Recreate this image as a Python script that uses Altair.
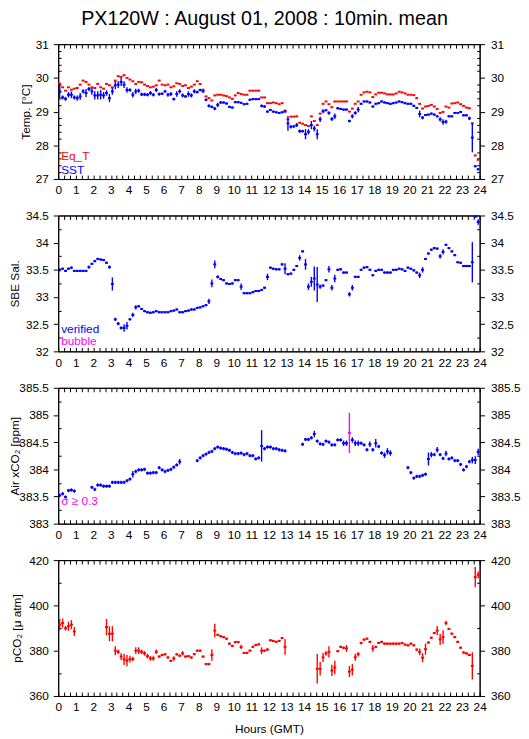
import altair as alt
import pandas as pd

FONT = "Liberation Sans"
BLUE = "#0000ff"
RED = "#ff0000"
MAGENTA = "#ff00ff"
TITLE = "PX120W : August 01, 2008 : 10min. mean"
N = None

# ---- 10-minute means, one row per hour (6 values) ----
eq_t = [
    29.83, 29.72, 29.62, 29.72, 29.65, 29.68,
    29.70, 29.80, 29.92, 29.88, 29.80, 29.72,
    29.70, 29.82, 29.72, 29.68, 29.82, 29.78,
    29.72, 29.92, 30.05, 30.03, 30.08, 30.00,
    29.95, 29.90, 29.82, 29.88, 29.87, 29.80,
    29.76, 29.72, 29.74, 29.78, 29.92, 29.80,
    29.78, 29.80, 29.72, 29.75, 29.84, 29.82,
    29.76, 29.78, 29.70, 29.74, 29.80, 29.90,
    29.82, 29.65, 29.45, 29.40, 29.33, 29.48,
    29.50, 29.50, 29.48, 29.46, 29.42, 29.38,
    29.48, 29.55, 29.52, 29.50, 29.50, 29.62,
    29.62, 29.62, 29.62, 29.42, 29.42, 29.25,
    29.25, 29.27, 29.25, 29.22, 29.25, 29.03,
    28.77, 28.85, 28.85, 28.86, 28.67, 28.64,
    28.60, 28.57, 28.86, 28.72, 28.60, 28.94,
    29.23, 29.30, 29.22, 29.13, 29.30, 29.30,
    29.30, 29.30, 29.30, 29.00, 29.09, 29.23,
    29.30, 29.50, 29.57, 29.59, 29.57, 29.43,
    29.51, 29.56, 29.56, 29.54, 29.51, 29.51,
    29.51, 29.54, 29.59, 29.57, 29.54, 29.50,
    29.50, 29.49, 29.40, 29.23, 29.09, 29.15,
    29.17, 29.20, 29.15, 29.08, 28.96, 28.99,
    29.15, 29.12, 29.24, 29.25, 29.27, 29.22,
    29.17, 29.12, 29.10, 28.65, 27.70, 27.57,
]

sst = [
    29.60, 29.42, 29.38, 29.50, 29.50, 29.42,
    29.40, 29.45, 29.60, 29.55, 29.67, 29.60,
    29.48, 29.48, 29.50, 29.48, 29.55, 29.40,
    29.60, 29.78, 29.80, 29.88, 29.80, 29.64,
    29.64, 29.50, 29.60, 29.62, 29.51, 29.51,
    29.50, 29.55, 29.50, 29.64, 29.52, 29.53,
    29.60, 29.50, 29.52, 29.37, 29.52, 29.60,
    29.48, 29.45, 29.52, 29.48, 29.60, 29.58,
    29.64, 29.60, 29.35, 29.17, 29.14, 29.09,
    29.20, 29.27, 29.27, 29.24, 29.14, 29.12,
    29.28, 29.28, 29.26, 29.22, 29.23, 29.35,
    29.37, 29.37, 29.37, 29.17, 29.15, 29.00,
    29.05, 29.00, 28.98, 28.96, 28.98, 29.00,
    28.65, 28.55, 28.56, 28.60, 28.42, 28.42,
    28.33, 28.40, 28.60, 28.50, 28.33, 28.77,
    29.01, 29.04, 28.96, 28.78, 28.86, 29.10,
    29.08, 29.06, 29.06, 28.72, 28.86, 28.96,
    29.06, 29.23, 29.30, 29.30, 29.27, 29.15,
    29.23, 29.25, 29.30, 29.27, 29.25, 29.23,
    29.25, 29.27, 29.30, 29.28, 29.25, 29.23,
    29.23, 29.17, 29.11, 28.93, 28.82, 28.90,
    28.91, 28.94, 28.91, 28.86, 28.77, 28.69,
    28.70, 28.86, 28.86, 28.96, 28.96, 28.99,
    28.89, 28.89, 28.80, 28.23, 27.38, 27.29,
]
sst_sd = [
    0.20, 0.06, 0.06, 0.08, 0.10, 0.06,
    0.08, 0.10, 0.06, 0.12, 0.06, 0.10,
    0.12, 0.12, 0.14, 0.10, 0.08, 0.12,
    0.10, 0.12, 0.10, 0.12, 0.10, 0.08,
    0.05, 0.08, 0.08, 0.06, 0.05, 0.05,
    0.05, 0.06, 0.05, 0.06, 0.05, 0.04,
    0.04, 0.06, 0.06, 0.04, 0.08, 0.06,
    0.06, 0.04, 0.08, 0.06, 0.06, 0.04,
    0.04, 0.04, 0.04, 0.05, 0.04, 0.05,
    0.06, 0.04, 0.03, 0.03, 0.03, 0.03,
    0.03, 0.03, 0.03, 0.03, 0.03, 0.03,
    0.03, 0.03, 0.03, 0.04, 0.04, 0.03,
    0.03, 0.03, 0.03, 0.03, 0.03, 0.03,
    0.22, 0.05, 0.04, 0.06, 0.05, 0.04,
    0.15, 0.08, 0.12, 0.08, 0.15, 0.08,
    0.06, 0.03, 0.05, 0.06, 0.08, 0.04,
    0.03, 0.03, 0.03, 0.04, 0.06, 0.05,
    0.08, 0.03, 0.03, 0.03, 0.03, 0.03,
    0.03, 0.03, 0.03, 0.03, 0.03, 0.03,
    0.03, 0.03, 0.03, 0.03, 0.03, 0.03,
    0.03, 0.03, 0.03, 0.10, 0.05, 0.03,
    0.03, 0.03, 0.03, 0.03, 0.06, 0.08,
    0.06, 0.03, 0.03, 0.03, 0.03, 0.03,
    0.03, 0.03, 0.05, 0.44, 0.03, 0.03,
]

sal = [
    33.50, 33.52, 33.48, 33.52, 33.54, 33.48,
    33.48, 33.48, 33.48, 33.48, 33.55, 33.61,
    33.66, 33.70, 33.69, 33.68, 33.63, 33.55,
    33.24, 32.59, 32.51, 32.43, 32.43, 32.47,
    32.59, 32.67, 32.81, 32.83, 32.78, 32.74,
    32.72, 32.71, 32.72, 32.74, 32.72, 32.72,
    32.72, 32.72, 32.74, 32.75, 32.77, 32.72,
    32.72, 32.74, 32.75, 32.77, 32.77, 32.80,
    32.81, 32.83, 32.85, 32.92, 33.25, 33.60,
    33.37, 33.33, 33.31, 33.25, 33.24, 33.25,
    33.31, 33.31, 33.19, 33.07, 33.07, 33.07,
    33.09, 33.11, 33.11, 33.13, 33.17, 33.37,
    33.54, 33.52, 33.51, 33.51, 33.60, 33.52,
    33.42, 33.43, 33.50, 33.57, 33.72, 33.84,
    33.60, 33.19, 33.28, 33.34, 33.23, 33.19,
    33.21, 33.31, 33.51, 33.17, 33.34, 33.50,
    33.51, 33.45, 33.45, 33.05, 33.17, 33.37,
    33.37, 33.50, 33.54, 33.55, 33.50, 33.40,
    33.48, 33.50, 33.50, 33.45, 33.45, 33.45,
    33.50, 33.50, 33.52, 33.51, 33.48, 33.54,
    33.52, 33.49, 33.45, 33.40, 33.50, 33.70,
    33.80, 33.87, 33.90, 33.89, 33.75, 33.83,
    33.96, 33.90, 33.84, 33.77, 33.64, 33.63,
    33.57, 33.57, 33.57, 33.64, 34.48, 34.38,
]
sal_sd = [
    0.03, 0.02, 0.02, 0.02, 0.02, 0.02,
    0.02, 0.02, 0.02, 0.02, 0.03, 0.02,
    0.02, 0.02, 0.02, 0.02, 0.02, 0.03,
    0.12, 0.03, 0.03, 0.03, 0.07, 0.07,
    0.02, 0.04, 0.04, 0.02, 0.02, 0.02,
    0.02, 0.02, 0.02, 0.02, 0.02, 0.02,
    0.02, 0.02, 0.02, 0.02, 0.02, 0.02,
    0.02, 0.02, 0.02, 0.02, 0.02, 0.02,
    0.02, 0.02, 0.02, 0.05, 0.07, 0.07,
    0.03, 0.02, 0.02, 0.02, 0.02, 0.02,
    0.02, 0.02, 0.06, 0.02, 0.02, 0.02,
    0.02, 0.02, 0.02, 0.02, 0.02, 0.06,
    0.02, 0.02, 0.02, 0.02, 0.02, 0.10,
    0.02, 0.02, 0.02, 0.02, 0.05, 0.02,
    0.10, 0.06, 0.09, 0.22, 0.32, 0.04,
    0.02, 0.02, 0.06, 0.05, 0.07, 0.02,
    0.02, 0.02, 0.02, 0.04, 0.05, 0.02,
    0.02, 0.02, 0.02, 0.02, 0.02, 0.02,
    0.02, 0.02, 0.02, 0.02, 0.02, 0.02,
    0.02, 0.02, 0.02, 0.02, 0.02, 0.02,
    0.02, 0.02, 0.02, 0.05, 0.05, 0.02,
    0.02, 0.02, 0.02, 0.02, 0.04, 0.05,
    0.02, 0.02, 0.02, 0.02, 0.02, 0.02,
    0.02, 0.02, 0.02, 0.37, 0.02, 0.05,
]

xco2 = [
    383.52, 383.55, 383.49, 383.61, 383.62, 383.60,
    N, N, N, N, N, 383.67,
    383.63, 383.71, 383.71, 383.69, 383.69, 383.69,
    383.76, 383.76, 383.76, 383.76, 383.76, 383.79,
    383.82, 383.91, 383.96, 383.99, 383.99, 384.00,
    383.93, 383.93, 383.94, 383.94, 384.03, 383.99,
    383.96, 383.98, 384.00, 384.04, 384.08, 384.14,
    N, N, N, N, N, 384.16,
    384.21, 384.25, 384.28, 384.31, 384.33, 384.38,
    384.41, 384.39, 384.38, 384.37, 384.35, 384.31,
    384.29, 384.29, 384.30, 384.27, 384.29, 384.25,
    384.25, 384.19, 384.21, 384.43, 384.38, 384.41,
    384.41, 384.38, 384.38, 384.36, 384.35, 384.34,
    N, N, N, N, N, 384.46,
    384.55, 384.55, 384.58, 384.65, 384.52, 384.47,
    384.46, 384.52, 384.50, 384.45, 384.45, 384.54,
    384.54, 384.48, 384.48, 384.67, 384.54, 384.48,
    384.48, 384.48, 384.45, 384.36, 384.46, 384.36,
    384.48, 384.42, 384.30, 384.26, 384.33, 384.30,
    N, N, N, N, N, 384.03,
    383.94, 383.84, 383.87, 383.87, 383.89, 383.91,
    384.19, 384.27, 384.27, 384.36, 384.27, 384.20,
    384.29, 384.19, 384.21, 384.16, 384.16, 384.09,
    383.99, 384.05, 384.14, 384.17, 384.17, 384.32,
]
xco2_sd = [
    0.03, 0.03, 0.03, 0.03, 0.03, 0.03,
    0.03, 0.03, 0.03, 0.03, 0.03, 0.03,
    0.03, 0.03, 0.03, 0.03, 0.03, 0.03,
    0.03, 0.03, 0.03, 0.03, 0.03, 0.03,
    0.03, 0.06, 0.03, 0.03, 0.03, 0.03,
    0.03, 0.03, 0.03, 0.03, 0.03, 0.03,
    0.03, 0.03, 0.03, 0.03, 0.03, 0.05,
    0.03, 0.03, 0.03, 0.03, 0.03, 0.03,
    0.03, 0.03, 0.03, 0.03, 0.03, 0.03,
    0.03, 0.03, 0.03, 0.03, 0.03, 0.03,
    0.03, 0.03, 0.03, 0.03, 0.03, 0.03,
    0.03, 0.03, 0.03, 0.29, 0.03, 0.03,
    0.03, 0.03, 0.03, 0.03, 0.03, 0.03,
    0.03, 0.03, 0.03, 0.03, 0.03, 0.03,
    0.03, 0.03, 0.03, 0.06, 0.03, 0.03,
    0.03, 0.03, 0.03, 0.03, 0.03, 0.03,
    0.03, 0.05, 0.05, 0.37, 0.05, 0.05,
    0.05, 0.03, 0.03, 0.03, 0.05, 0.03,
    0.08, 0.03, 0.03, 0.05, 0.06, 0.05,
    0.03, 0.03, 0.03, 0.03, 0.03, 0.03,
    0.03, 0.03, 0.03, 0.03, 0.03, 0.03,
    0.12, 0.05, 0.03, 0.05, 0.03, 0.03,
    0.05, 0.03, 0.03, 0.03, 0.03, 0.03,
    0.03, 0.03, 0.03, 0.06, 0.07, 0.06,
]

pco2 = [
    391.5, 392.2, 389.9, 390.8, 391.5, 388.5,
    N, N, N, N, N, N,
    N, N, N, N, 390.4, 387.5,
    387.5, 380.0, 379.5, 377.4, 376.2, 375.6,
    376.3, 376.3, 380.0, 380.0, 379.5, 378.8,
    377.6, 376.6, 376.6, 379.5, 377.4, 378.1,
    378.4, 377.0, 375.5, 376.6, 378.4, 377.8,
    378.8, 377.4, 377.6, 377.0, 378.5, 380.0,
    380.0, 377.4, 374.1, 374.1, 378.1, 388.9,
    387.0, 386.4, 386.0, 385.3, 383.1, 382.1,
    383.8, 383.8, 381.6, 379.0, 379.0, 380.0,
    381.7, 382.5, 382.8, 380.0, 380.0, 380.5,
    384.6, 384.3, 383.9, 384.3, 385.6, 381.7,
    N, N, N, N, N, N,
    N, N, N, N, 372.0, 372.0,
    377.0, 378.8, 379.5, 371.3, 372.6, 379.8,
    381.7, 381.3, 381.0, 370.8, 371.6, 377.1,
    378.4, 383.4, 384.9, 385.3, 383.9, 381.0,
    381.7, 383.4, 383.9, 383.1, 383.1, 383.1,
    383.1, 383.1, 383.1, 383.4, 382.7, 382.4,
    383.1, 382.4, 380.5, 379.5, 376.9, 380.7,
    383.6, 385.7, 387.8, 388.9, 385.0, 386.0,
    392.2, 389.6, 387.5, 386.0, 383.9, 381.3,
    379.2, 378.8, 378.1, 373.3, 412.5, 413.5,
]
pco2_sd = [
    2.5, 2.0, 1.0, 2.0, 2.0, 2.0,
    0.5, 0.5, 0.5, 0.5, 0.5, 0.5,
    0.5, 0.5, 0.5, 0.5, 3.6, 3.3,
    3.3, 2.0, 1.0, 1.5, 2.5, 2.5,
    1.5, 1.0, 1.5, 1.5, 1.0, 1.0,
    1.0, 1.0, 1.0, 1.0, 0.5, 0.5,
    0.5, 0.5, 0.5, 1.0, 0.5, 0.5,
    1.0, 0.5, 0.5, 0.5, 0.5, 0.5,
    0.5, 0.5, 0.5, 0.5, 2.5, 3.0,
    0.5, 0.5, 0.5, 0.5, 0.5, 0.5,
    0.5, 0.5, 1.0, 0.5, 0.5, 0.5,
    0.5, 0.5, 0.5, 1.5, 0.5, 0.5,
    0.5, 0.5, 0.5, 0.5, 0.5, 3.5,
    0.5, 0.5, 0.5, 0.5, 0.5, 0.5,
    0.5, 0.5, 0.5, 0.5, 6.5, 3.0,
    2.0, 1.0, 2.5, 2.5, 3.0, 0.5,
    0.5, 0.5, 1.5, 2.5, 2.5, 1.5,
    1.0, 0.5, 0.5, 0.5, 0.5, 1.5,
    0.5, 0.5, 0.5, 0.5, 0.5, 0.5,
    0.5, 0.5, 0.5, 0.5, 0.5, 0.5,
    0.5, 0.5, 0.5, 1.5, 2.0, 2.5,
    0.5, 0.5, 0.5, 2.0, 2.5, 3.0,
    1.0, 0.5, 0.5, 0.5, 0.5, 0.5,
    0.5, 0.5, 0.5, 6.0, 4.5, 1.5,
]

for arr in (eq_t, sst, sst_sd, sal, sal_sd, xco2, xco2_sd, pco2, pco2_sd):
    assert len(arr) == 144, len(arr)


def frame(vals, sds, colorfn):
    rows = []
    for i, v in enumerate(vals):
        if v is None:
            continue
        s = sds[i] if sds is not None else 0.0
        rows.append({"x0": i / 6, "x1": (i + 1) / 6, "t": (i + 0.5) / 6,
                     "v": v, "lo": v - s, "hi": v + s, "c": colorfn(s)})
    return pd.DataFrame(rows)


XVALS = [round(i / 3, 5) for i in range(73)]
W = 428


def x_axis(orient, labels, title=None):
    kw = dict(orient=orient, values=XVALS, grid=False,
              tickSize={"expr": "-4"}, labels=labels,
              labelExpr="abs(datum.value - round(datum.value)) < 0.01 ? format(round(datum.value), 'd') : ''",
              labelPadding=10, labelOverlap=False, labelFlush=False,
              labelFontSize=12, labelFont=FONT, labelColor="black",
              tickColor="black", domainColor="black")
    if title:
        kw.update(title=title, titleX=W / 2, titleY=37, titleBaseline="alphabetic",
                  titleAlign="center", titleFontSize=12, titleFont=FONT,
                  titleFontWeight="normal", titleColor="black")
    else:
        kw["title"] = None
    return alt.Axis(**kw)


def y_axis(orient, vals, major, fmt, h, title=None, tx=None):
    kw = dict(orient=orient, values=vals, grid=False,
              tickSize={"expr": f"({major}) ? 5 : -3"},
              labelExpr=f"({major}) ? {fmt} : ''",
              labelPadding=5 if orient == "left" else 6,
              labelOverlap=False, labelFlush=False,
              labelFontSize=12, labelFont=FONT, labelColor="black",
              tickColor="black", domainColor="black")
    if title:
        kw.update(title=title, titleX=tx, titleY=h / 2, titleAngle=270,
                  titleBaseline="middle", titleAlign="center", titleFontSize=12,
                  titleFont=FONT, titleFontWeight="normal", titleColor="black")
    else:
        kw["title"] = None
    return alt.Axis(**kw)


def panel(series, ydom, yvals, major, fmt, ytitle, tx, texts, h, xtitle=None):
    xs = alt.Scale(domain=[0, 24], nice=False, zero=False)
    ys = alt.Scale(domain=ydom, nice=False, zero=False)
    layers = []
    for k, (df, bars) in enumerate(series):
        first = k == 0
        base = alt.Chart(df)
        layers.append(base.mark_rule(strokeWidth=2).encode(
            x=alt.X("x0:Q", scale=xs, axis=x_axis("bottom", True, xtitle) if first else None),
            x2="x1:Q",
            y=alt.Y("v:Q", scale=ys,
                    axis=y_axis("left", yvals, major, fmt, h, ytitle, tx) if first else None),
            color=alt.Color("c:N", scale=None)))
        if bars:
            layers.append(base.mark_rule(strokeWidth=1.4).encode(
                x=alt.X("t:Q", scale=xs, axis=None),
                y=alt.Y("lo:Q", scale=ys, axis=None),
                y2="hi:Q",
                color=alt.Color("c:N", scale=None)))
    layers.append(alt.Chart(series[0][0]).mark_point(opacity=0).encode(
        x=alt.X("t:Q", scale=xs, axis=x_axis("top", False)),
        y=alt.Y("v:Q", scale=ys, axis=y_axis("right", yvals, major, fmt, h))))
    for txt, col, ty in texts:
        layers.append(alt.Chart(pd.DataFrame({"s": [txt]})).mark_text(
            align="left", baseline="alphabetic", fontSize=12, font=FONT, color=col
        ).encode(text="s:N", x=alt.value(3), y=alt.value(ty)))
    return alt.layer(*layers).resolve_axis(x="independent", y="independent").properties(
        width=W, height=h)


eq_df = frame(eq_t, None, lambda s: RED)
sst_df = frame(sst, sst_sd, lambda s: BLUE)
sal_df = frame(sal, sal_sd, lambda s: BLUE)
xco2_df = frame(xco2, xco2_sd, lambda s: MAGENTA if s >= 0.3 else BLUE)
pco2_df = frame(pco2, pco2_sd, lambda s: RED)

INT = "abs(datum.value - round(datum.value)) < 0.001"
HALF = "abs(datum.value * 2 - round(datum.value * 2)) < 0.001"
p1 = panel([(eq_df, False), (sst_df, True)], [27, 31],
           [round(27 + 0.2 * i, 4) for i in range(21)], INT,
           "format(round(datum.value), 'd')", "Temp. [°C]", -33,
           [("Eq_T", RED, 118), ("SST", BLUE, 132)], 137)
p2 = panel([(sal_df, True)], [32, 34.5],
           [32 + 0.25 * i for i in range(11)], HALF,
           "format(datum.value, '~g')", "SBE Sal.", -44,
           [("verified", BLUE, 119), ("bubble", MAGENTA, 132)], 138)
p3 = panel([(xco2_df, True)], [383, 385.5],
           [383 + 0.25 * i for i in range(11)], HALF,
           "format(datum.value, '~g')", "Air xCO₂ [ppm]", -44,
           [("σ ≥ 0.3", MAGENTA, 119)], 138)
p4 = panel([(pco2_df, True)], [360, 420],
           [360 + 10 * i for i in range(7)], "datum.value % 20 == 0",
           "format(round(datum.value), 'd')", "pCO₂ [μ atm]", -42,
           [], 138, xtitle="Hours (GMT)")

chart = alt.vconcat(p1, p2, p3, p4, spacing=12).properties(
    title=alt.TitleParams(TITLE, fontSize=20, font=FONT, fontWeight="normal",
                          anchor="middle", offset=9, color="black"),
    padding={"left": 0, "top": -5, "right": 0, "bottom": 0},
).configure(background="white").configure_view(stroke="black", strokeWidth=1)

chart.save("out.html", embed_options={"renderer": "svg", "actions": False})
